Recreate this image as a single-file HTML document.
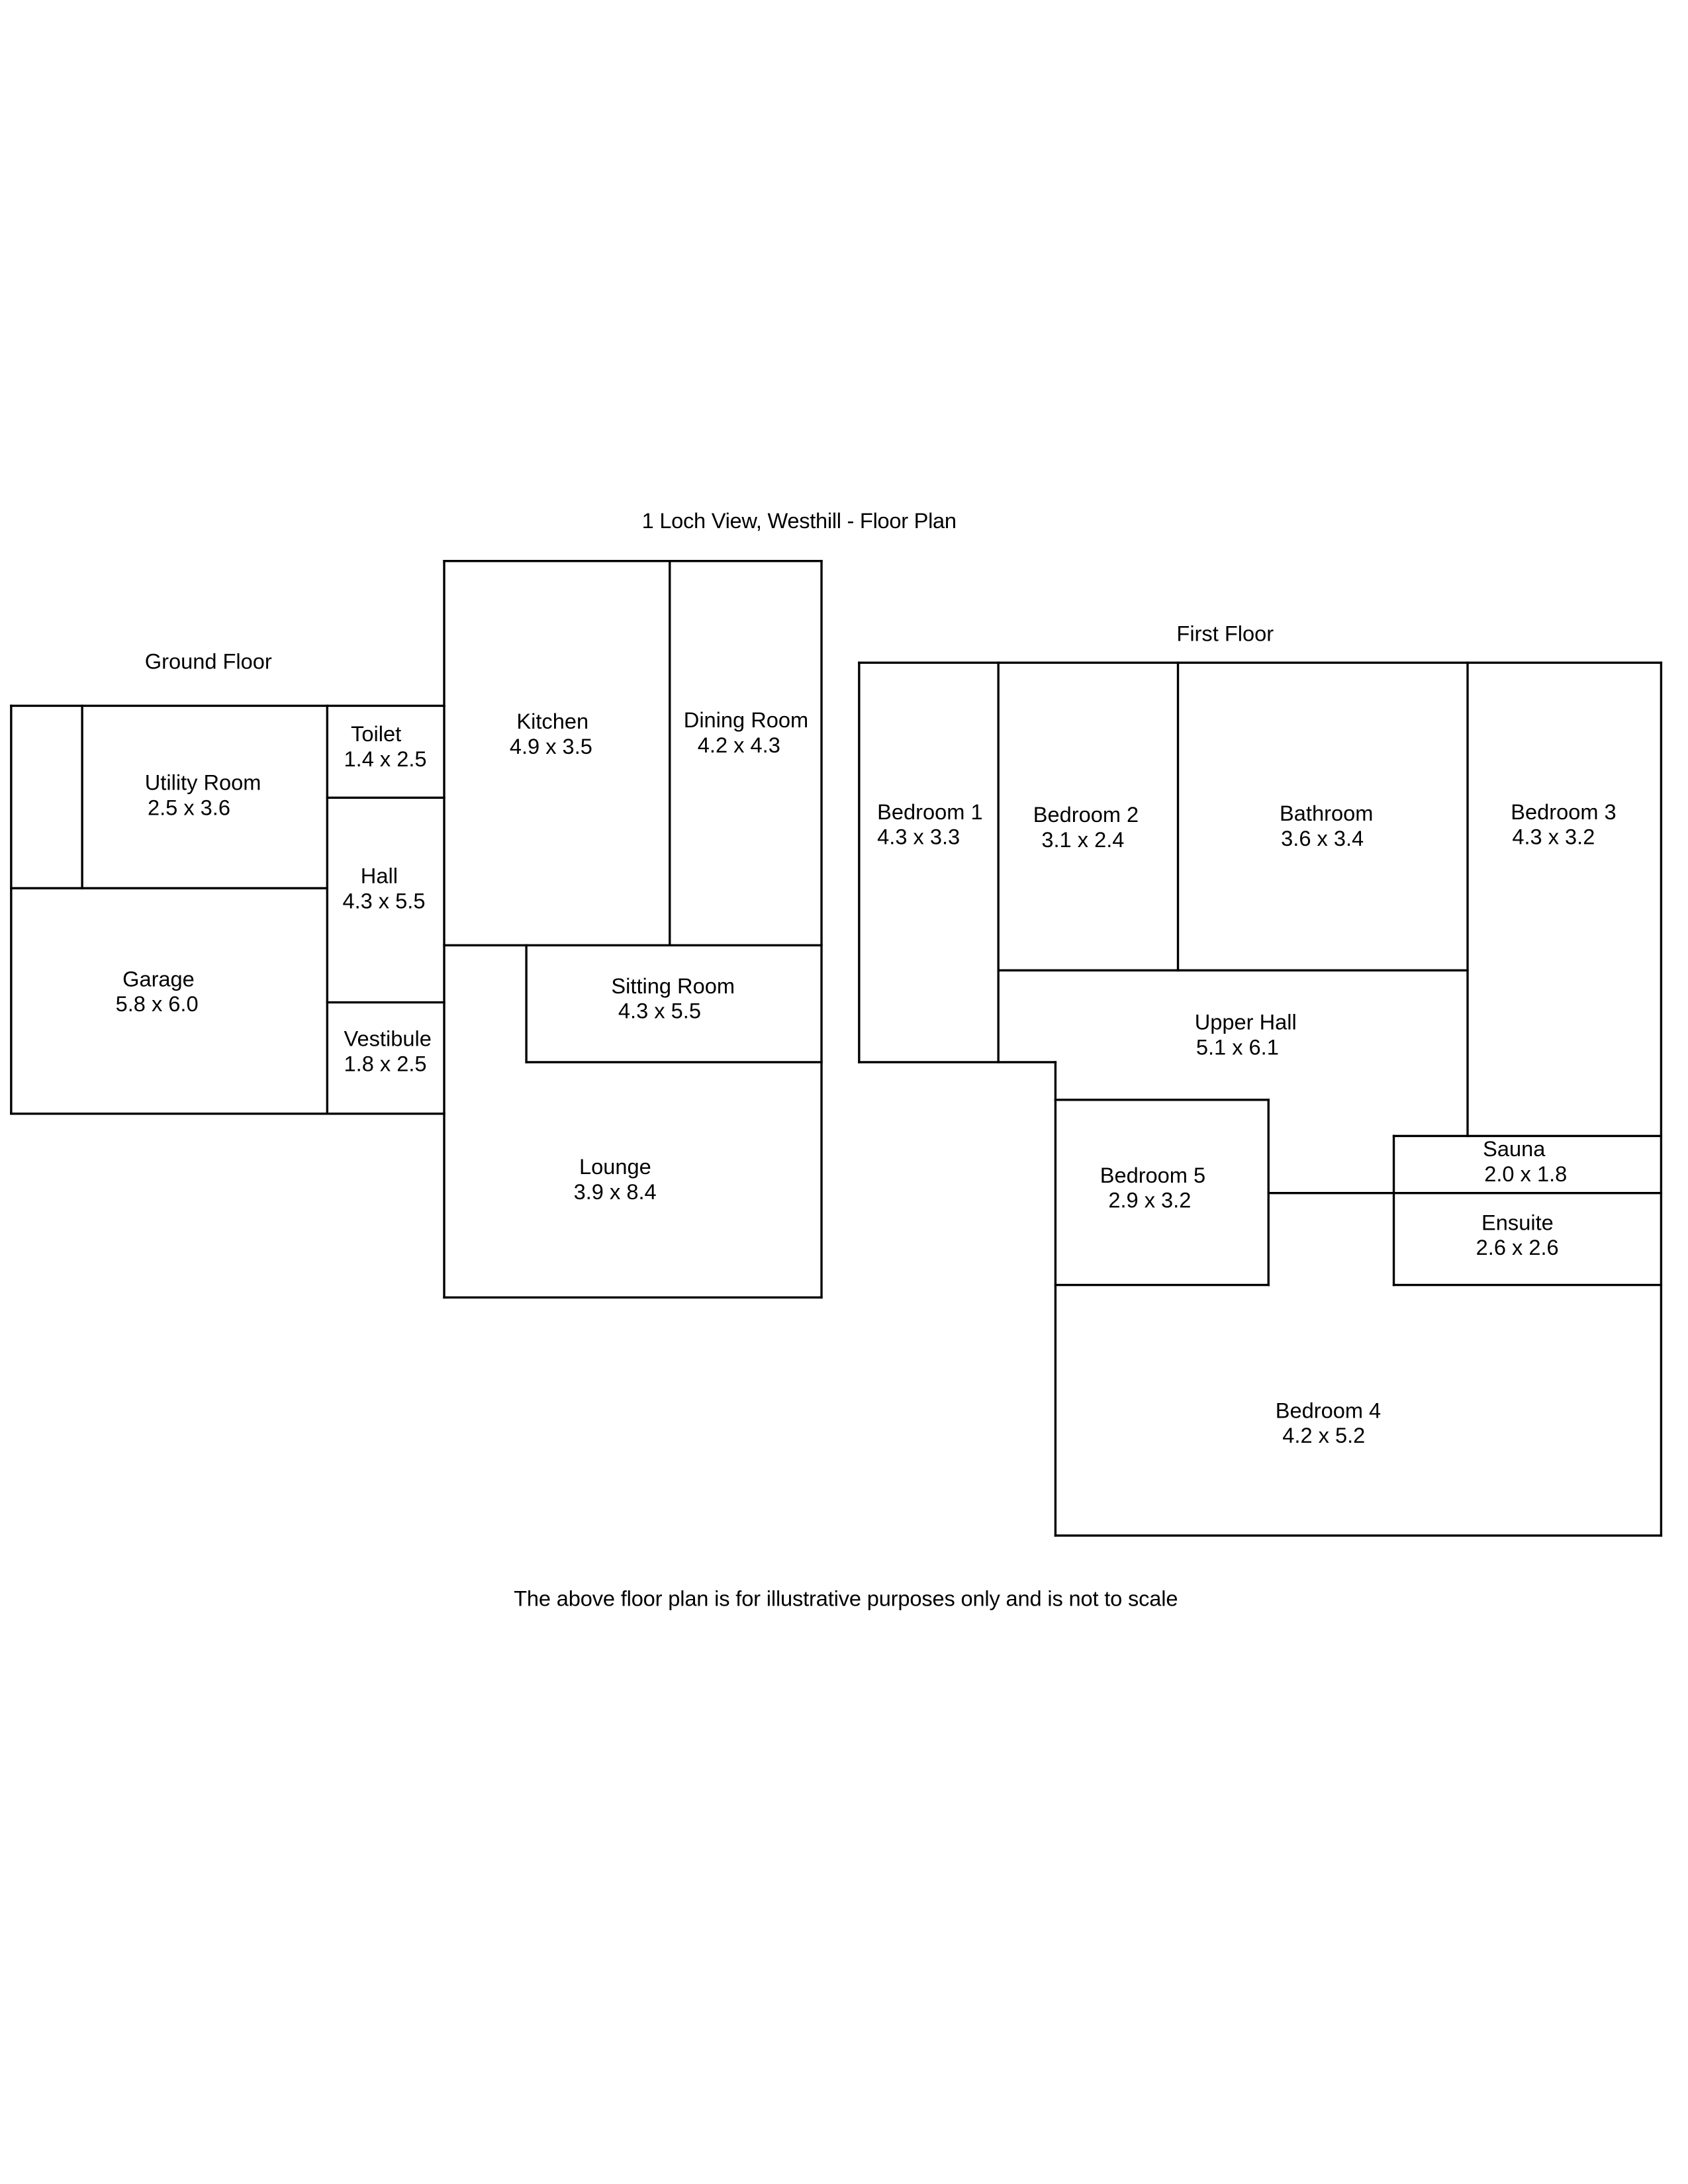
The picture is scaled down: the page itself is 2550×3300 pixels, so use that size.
<!DOCTYPE html>
<html><head><meta charset="utf-8"><style>
html,body{margin:0;padding:0;background:#fff;}
svg{display:block;}
text{font-family:"Liberation Sans",sans-serif;font-size:15.5px;fill:#000;dominant-baseline:central;}
</style></head><body>
<svg width="2550" height="3300" viewBox="0 0 1212.3 1568.8" preserveAspectRatio="none" xmlns="http://www.w3.org/2000/svg">
<g stroke="#000" stroke-width="1.6" fill="none" stroke-linecap="square">
<line x1="8" y1="507" x2="319" y2="507"/>
<line x1="8" y1="507" x2="8" y2="800"/>
<line x1="8" y1="800" x2="319" y2="800"/>
<line x1="8" y1="638" x2="235" y2="638"/>
<line x1="59" y1="507" x2="59" y2="638"/>
<line x1="235" y1="507" x2="235" y2="800"/>
<line x1="235" y1="573" x2="319" y2="573"/>
<line x1="235" y1="720" x2="319" y2="720"/>
<line x1="319" y1="403" x2="319" y2="932"/>
<line x1="319" y1="403" x2="590" y2="403"/>
<line x1="481" y1="403" x2="481" y2="679"/>
<line x1="319" y1="679" x2="590" y2="679"/>
<line x1="378" y1="679" x2="378" y2="763"/>
<line x1="378" y1="763" x2="590" y2="763"/>
<line x1="590" y1="403" x2="590" y2="932"/>
<line x1="319" y1="932" x2="590" y2="932"/>
<line x1="617" y1="476" x2="1193" y2="476"/>
<line x1="617" y1="476" x2="617" y2="763"/>
<line x1="717" y1="476" x2="717" y2="763"/>
<line x1="617" y1="763" x2="758" y2="763"/>
<line x1="758" y1="763" x2="758" y2="1103"/>
<line x1="846" y1="476" x2="846" y2="697"/>
<line x1="717" y1="697" x2="1054" y2="697"/>
<line x1="1054" y1="476" x2="1054" y2="816"/>
<line x1="1193" y1="476" x2="1193" y2="1103"/>
<line x1="758" y1="790" x2="911" y2="790"/>
<line x1="911" y1="790" x2="911" y2="923"/>
<line x1="758" y1="923" x2="911" y2="923"/>
<line x1="911" y1="857" x2="1193" y2="857"/>
<line x1="1001" y1="816" x2="1193" y2="816"/>
<line x1="1001" y1="816" x2="1001" y2="923"/>
<line x1="1001" y1="923" x2="1193" y2="923"/>
<line x1="758" y1="1103" x2="1193" y2="1103"/>
</g>
<text x="461" y="374" textLength="226">1 Loch View, Westhill - Floor Plan</text>
<text x="104" y="475">Ground Floor</text>
<text x="104" y="562">Utility Room</text><text x="106" y="580">2.5 x 3.6</text>
<text x="252" y="527">Toilet</text><text x="247" y="545">1.4 x 2.5</text>
<text x="259" y="629">Hall</text><text x="246" y="647">4.3 x 5.5</text>
<text x="88" y="703">Garage</text><text x="83" y="721">5.8 x 6.0</text>
<text x="247" y="746">Vestibule</text><text x="247" y="764">1.8 x 2.5</text>
<text x="371" y="518">Kitchen</text><text x="366" y="536">4.9 x 3.5</text>
<text x="491" y="517">Dining Room</text><text x="501" y="535">4.2 x 4.3</text>
<text x="439" y="708">Sitting Room</text><text x="444" y="726">4.3 x 5.5</text>
<text x="416" y="838">Lounge</text><text x="412" y="856">3.9 x 8.4</text>
<text x="845" y="455">First Floor</text>
<text x="630" y="583">Bedroom 1</text><text x="630" y="601">4.3 x 3.3</text>
<text x="742" y="585">Bedroom 2</text><text x="748" y="603">3.1 x 2.4</text>
<text x="919" y="584">Bathroom</text><text x="920" y="602">3.6 x 3.4</text>
<text x="1085" y="583">Bedroom 3</text><text x="1086" y="601">4.3 x 3.2</text>
<text x="858" y="734">Upper Hall</text><text x="859" y="752">5.1 x 6.1</text>
<text x="1065" y="825">Sauna</text><text x="1066" y="843">2.0 x 1.8</text>
<text x="790" y="844">Bedroom 5</text><text x="796" y="862">2.9 x 3.2</text>
<text x="1064" y="878">Ensuite</text><text x="1060" y="896">2.6 x 2.6</text>
<text x="916" y="1013">Bedroom 4</text><text x="921" y="1031">4.2 x 5.2</text>
<text x="369" y="1148" textLength="477">The above floor plan is for illustrative purposes only and is not to scale</text>
</svg>
</body></html>
